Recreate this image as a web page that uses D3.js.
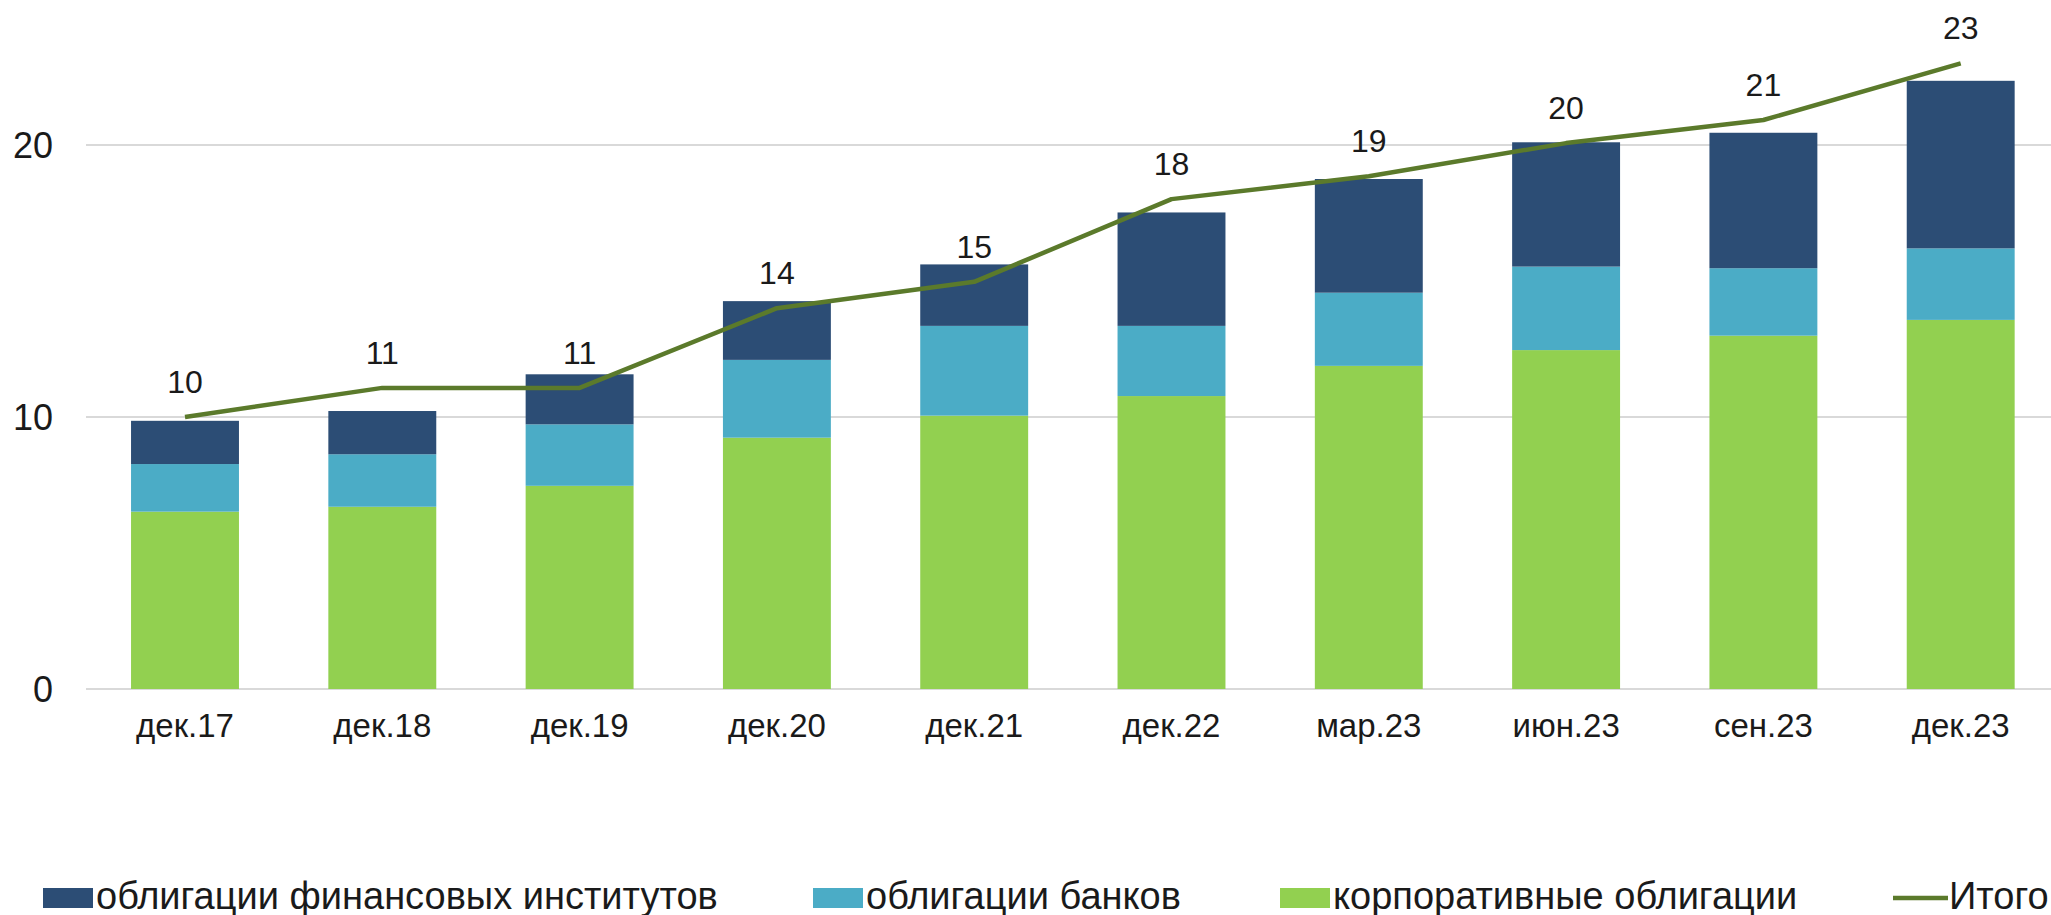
<!DOCTYPE html>
<html>
<head>
<meta charset="utf-8">
<script src="https://cdn.jsdelivr.net/npm/d3@7"></script>
<style>
  html, body { margin: 0; padding: 0; background: #fff; overflow: hidden; }
  text { font-family: "Liberation Sans", Arial, sans-serif; fill: #1a1a1a; }
</style>
</head>
<body>
<svg id="chart"></svg>
<script>
// Categories (periods) on the x axis.
const periods = ["дек.17", "дек.18", "дек.19", "дек.20", "дек.21", "дек.22", "мар.23", "июн.23", "сен.23", "дек.23"];
// Stacked series values.
const corporate = [6.52, 6.70, 7.47, 9.24, 10.05, 10.77, 11.88, 12.46, 12.99, 13.57];
const banks = [1.75, 1.93, 2.26, 2.86, 3.30, 2.58, 2.69, 3.07, 2.48, 2.63];
const financial = [1.59, 1.59, 1.84, 2.16, 2.26, 4.17, 4.18, 4.57, 4.98, 6.16];
// Total line and its labels.
const totals = [10.0, 11.07, 11.07, 14.0, 14.97, 18.01, 18.85, 20.07, 20.92, 23.0];
const totalLabels = ["10", "11", "11", "14", "15", "18", "19", "20", "21", "23"];
const yTicks = [0, 10, 20];

const seriesNames = ["облигации финансовых институтов", "облигации банков", "корпоративные облигации", "Итого"];

const width = 2051, height = 915;
const colors = { corporate: "#92d050", banks: "#4bacc6", financial: "#2c4d75", total: "#5b7a2b" };

const svg = d3.select("#chart")
    .attr("width", width)
    .attr("height", height);

// Scales: band covers the plot area which runs past the right edge.
const x = d3.scaleBand()
    .domain(periods)
    .range([86.35, 2059.35])
    .paddingInner(0.453)
    .paddingOuter(0.2265);

const y = d3.scaleLinear()
    .domain([0, 25])
    .range([689, 9]);

// Gridlines
svg.append("g")
    .selectAll("line")
    .data(yTicks)
    .enter()
    .append("line")
    .attr("x1", 86)
    .attr("x2", width)
    .attr("y1", d => y(d))
    .attr("y2", d => y(d))
    .attr("stroke", "#d9d9d9")
    .attr("stroke-width", 2);

// Y axis labels
const yAxis = d3.axisLeft(y).tickValues(yTicks).tickSize(0).tickPadding(0);
const gy = svg.append("g")
    .attr("transform", "translate(53,0)")
    .call(yAxis);
gy.select(".domain").remove();
gy.selectAll("text")
    .style("font-size", "36px")
    .style("font-family", "'Liberation Sans', Arial, sans-serif")
    .attr("fill", "#1a1a1a")
    .attr("dy", "0.36em");

// X axis labels
const xAxis = d3.axisBottom(x).tickSize(0).tickPadding(0);
const gx = svg.append("g")
    .attr("transform", "translate(0,689)")
    .call(xAxis);
gx.select(".domain").remove();
gx.selectAll("text")
    .style("font-size", "33px")
    .style("font-family", "'Liberation Sans', Arial, sans-serif")
    .attr("fill", "#1a1a1a")
    .attr("dy", null)
    .attr("y", 48);

// Stacked bars
const rows = periods.map((p, i) => ({
    period: p,
    corporate: corporate[i],
    banks: banks[i],
    financial: financial[i]
}));
const keys = ["corporate", "banks", "financial"];
const stacked = d3.stack().keys(keys)(rows);

svg.append("g")
    .selectAll("g")
    .data(stacked)
    .enter()
    .append("g")
    .attr("fill", d => colors[d.key])
    .selectAll("rect")
    .data(d => d)
    .enter()
    .append("rect")
    .attr("x", d => x(d.data.period))
    .attr("width", x.bandwidth())
    .attr("y", d => y(d[1]))
    .attr("height", d => y(d[0]) - y(d[1]));

// Total line
const line = d3.line()
    .x((d, i) => x(periods[i]) + x.bandwidth() / 2)
    .y(d => y(d));

svg.append("path")
    .datum(totals)
    .attr("d", line)
    .attr("fill", "none")
    .attr("stroke", colors.total)
    .attr("stroke-width", 4.5)
    .attr("stroke-linejoin", "round");

// Labels above the line
svg.append("g")
    .selectAll("text")
    .data(totals)
    .enter()
    .append("text")
    .attr("x", (d, i) => x(periods[i]) + x.bandwidth() / 2)
    .attr("y", d => y(d) - 24)
    .attr("text-anchor", "middle")
    .style("font-size", "32px")
    .text((d, i) => totalLabels[i]);

// Legend
const legendX = [43, 813, 1280, 1893];
const legendKinds = ["financial", "banks", "corporate", "total"];
const legend = svg.append("g");
const items = legend.selectAll("g")
    .data(seriesNames)
    .enter()
    .append("g")
    .attr("transform", (d, i) => `translate(${legendX[i]},0)`);

items.filter((d, i) => legendKinds[i] !== "total")
    .append("rect")
    .attr("x", 0)
    .attr("y", 888)
    .attr("width", 50)
    .attr("height", 20)
    .attr("fill", (d, i) => colors[legendKinds[i]]);

items.filter((d, i) => legendKinds[i] === "total")
    .append("line")
    .attr("x1", 0)
    .attr("x2", 55)
    .attr("y1", 898)
    .attr("y2", 898)
    .attr("stroke", colors.total)
    .attr("stroke-width", 4.5);

items.append("text")
    .attr("x", (d, i) => legendKinds[i] === "total" ? 56 : 53)
    .attr("y", 909)
    .style("font-size", "38px")
    .text(d => d);
</script>
</body>
</html>
